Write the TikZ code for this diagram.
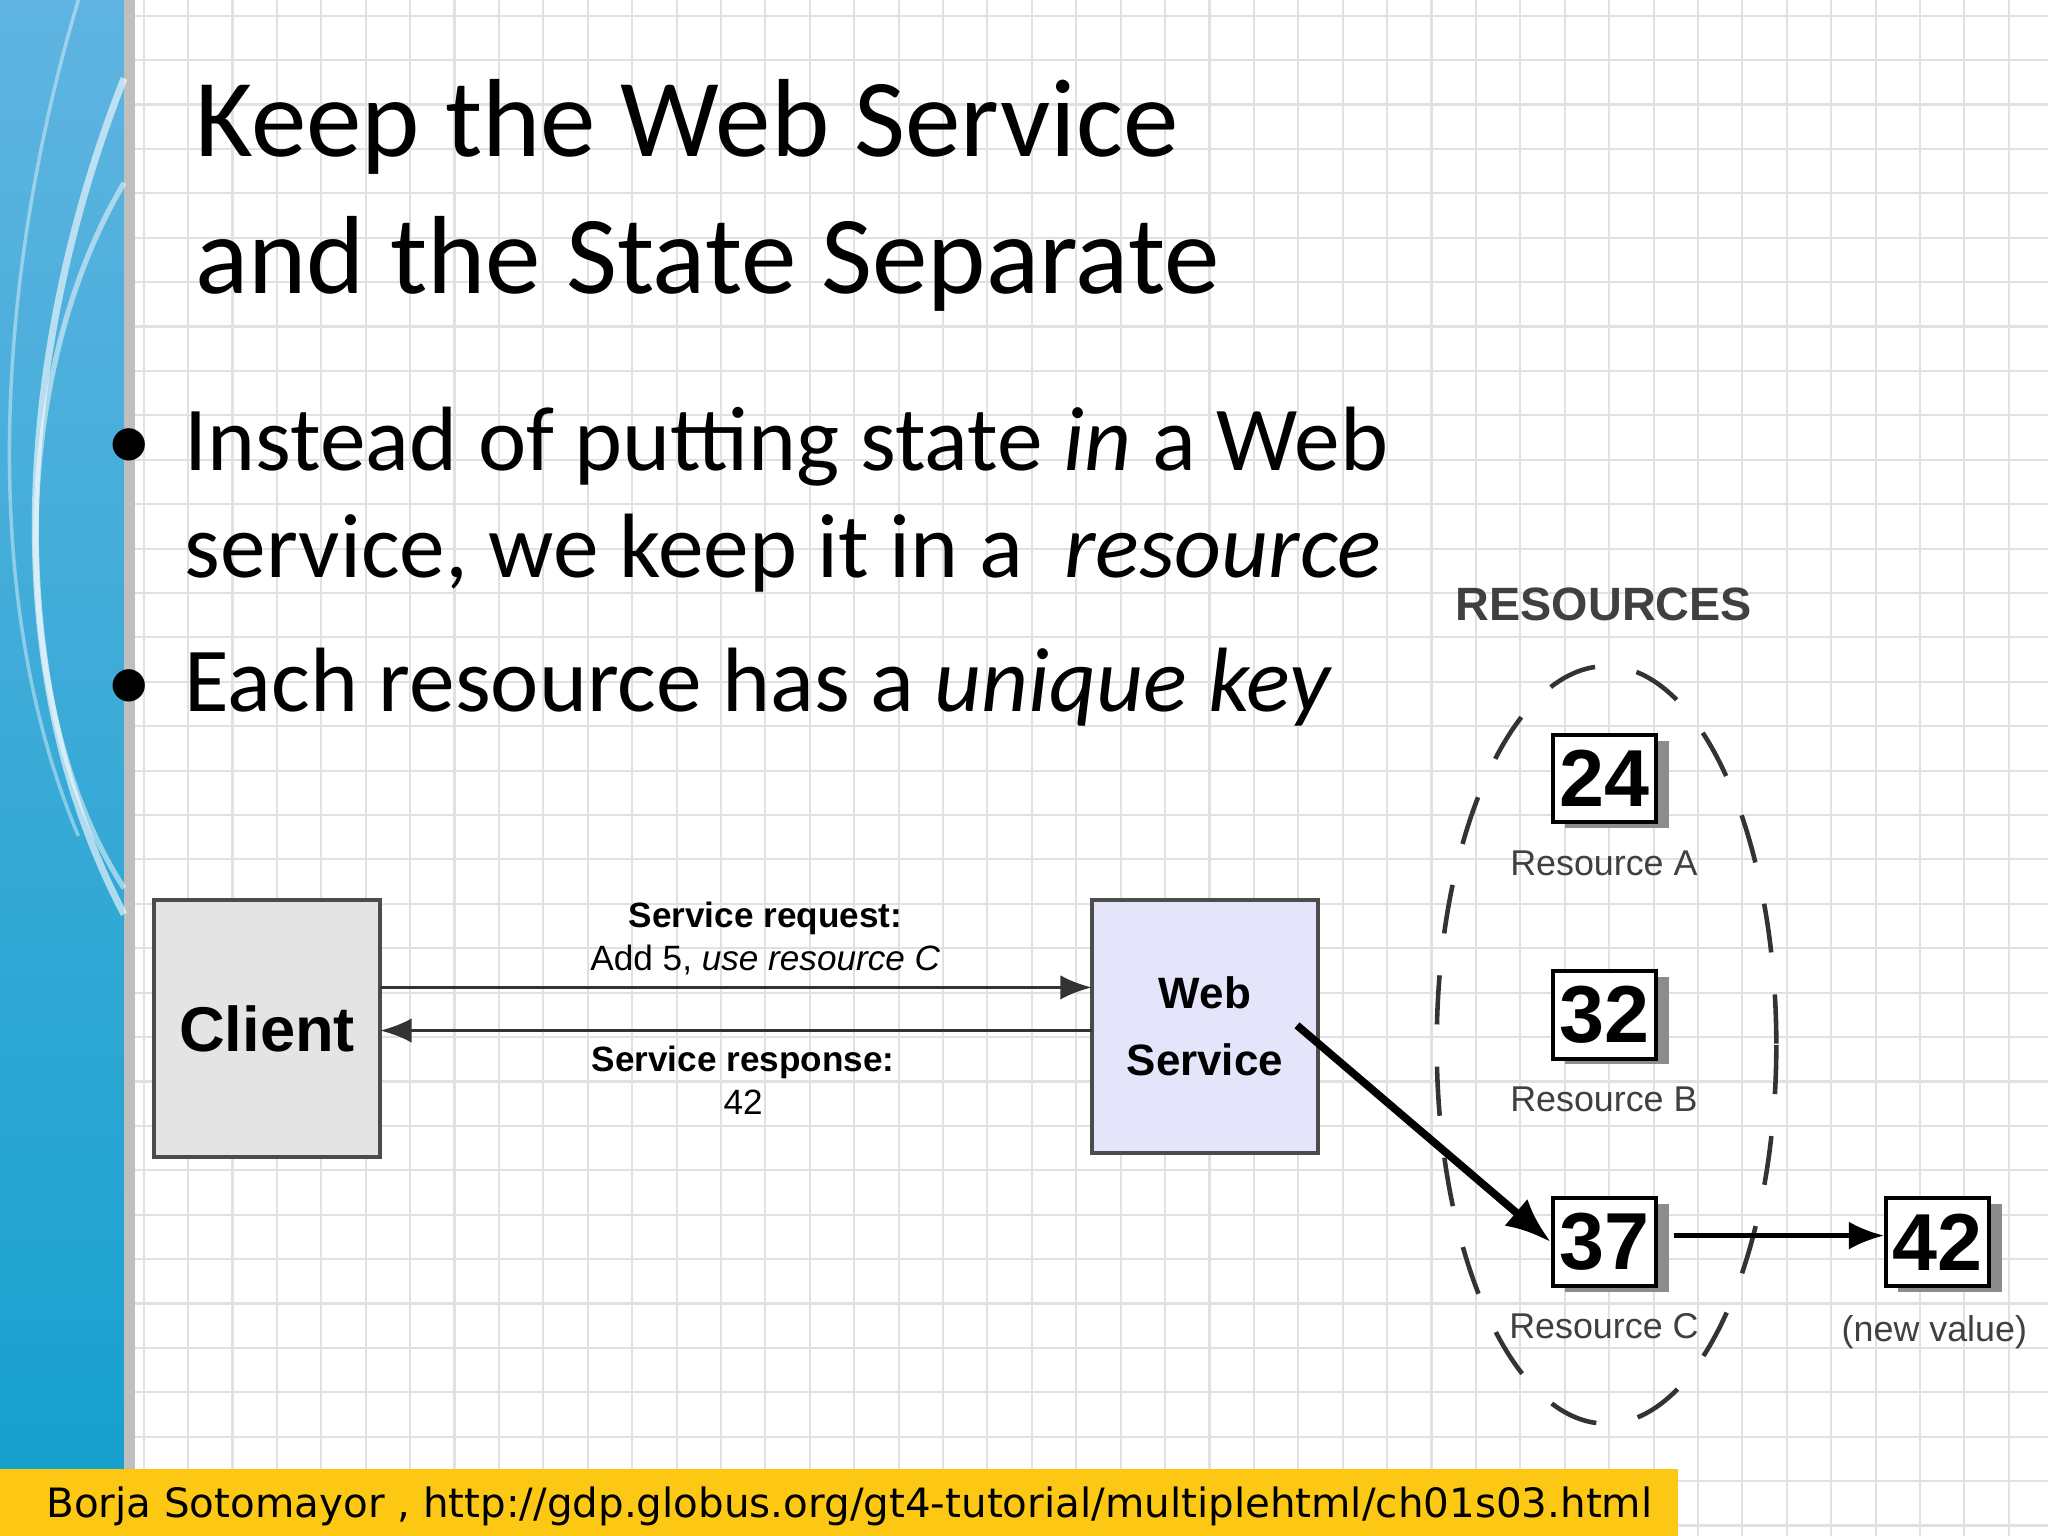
\documentclass[tikz,border=0pt]{standalone}
\usepackage{fontspec}
\setmainfont{Carlito}
\newfontfamily\hel{Liberation Sans}
\newfontfamily\dv{DejaVu Sans}
\usetikzlibrary{arrows.meta,shapes.geometric}
\definecolor{gridc}{RGB}{225,225,225}
\definecolor{lav}{RGB}{228,228,250}
\definecolor{boxgrey}{RGB}{228,228,228}
\definecolor{foot}{RGB}{252,200,20}
\definecolor{stripetop}{RGB}{95,180,225}
\definecolor{stripebot}{RGB}{20,160,205}
\tikzset{
 diag/.style={font=\hel},
 resbox/.style={draw=black,line width=1.2pt,fill=white,minimum width=79*0.013061cm,minimum height=67*0.013061cm,font=\hel\bfseries\fontsize{23}{23}\selectfont,inner sep=0pt},
 reslbl/.style={font=\hel\fontsize{10.2}{12}\selectfont,text=black!75},
 conn/.style={line width=1pt,-{Latex[length=9pt,width=7pt]}},
}
\begin{document}
\begin{tikzpicture}[x=0.013061cm,y=-0.013061cm]
\useasboundingbox (0,0) rectangle (1568,1176);
\fill[white] (0,0) rectangle (1568,1176);
\foreach \x in {110,144,...,1568} \draw[gridc,line width=0.6pt] (\x,0) -- (\x,1176);
\foreach \y in {12,46,...,1176} \draw[gridc,line width=0.6pt] (100,\y) -- (1568,\y);
% left stripe
\shade[top color=stripetop,bottom color=stripebot] (0,0) rectangle (95,1176);
\fill[black!25] (95,0) rectangle (103,1176);
\draw[white,opacity=0.6,line width=2pt] (95,60) .. controls (20,250) and (-10,500) .. (95,700);
\draw[white,opacity=0.5,line width=1.5pt] (95,140) .. controls (0,300) and (10,550) .. (95,680);
\draw[white,opacity=0.4,line width=1pt] (60,0) .. controls (0,200) and (-20,450) .. (60,640);
% title
\node[anchor=base west,font=\fontsize{31.6}{36}\selectfont] (t1) at (140,120) {Keep the Web Service};
\node[anchor=base west,font=\fontsize{31.6}{36}\selectfont] (t2) at (140,225) {and the State Separate};
% bullets
\node[anchor=base west,font=\fontsize{26}{30}\selectfont] (b1) at (72,360) {•};
\node[anchor=base west,font=\fontsize{26}{30}\selectfont] (l1) at (132,360) {Instead of putting state \textit{in} a Web};
\node[anchor=base west,font=\fontsize{26}{30}\selectfont] (l2) at (132,442) {service, we keep it in a \ \textit{resource}};
\node[anchor=base west,font=\fontsize{26}{30}\selectfont] (b2) at (72,545) {•};
\node[anchor=base west,font=\fontsize{26}{30}\selectfont] (l3) at (132,545) {Each resource has a \textit{unique key}};
% diagram
\node[draw=black!70,line width=1.2pt,fill=boxgrey,inner sep=0pt,minimum width=173*0.013061cm,minimum height=197*0.013061cm,font=\hel\bfseries\fontsize{18}{20}\selectfont] (client) at (204.5,787.5) {Client};
\node[draw=black!70,line width=1.2pt,fill=lav,inner sep=0pt,minimum width=173*0.013061cm,minimum height=194*0.013061cm,align=center,font=\hel\bfseries\fontsize{12.5}{19}\selectfont] (ws) at (922.5,786) {Web\\Service};
\coordinate (c1) at (291,756); \coordinate (w1) at (836,756);
\coordinate (c2) at (291,789); \coordinate (w2) at (836,789);
\draw[conn,black!80] (c1) -- (w1);
\draw[conn,black!80] (w2) -- (c2);
\node[diag,anchor=base,font=\hel\bfseries\fontsize{10}{12}\selectfont] (rq1) at (586,710) {Service request:};
\node[diag,anchor=base,font=\hel\fontsize{10}{12}\selectfont] (rq2) at (586,743) {Add 5, \textit{use resource C}};
\node[diag,anchor=base,font=\hel\bfseries\fontsize{10}{12}\selectfont] (rs1) at (569,820) {Service response:};
\node[diag,anchor=base,font=\hel\fontsize{10}{12}\selectfont] (rs2) at (569,853) {42};
% resources
\node[font=\hel\bfseries\fontsize{13.3}{15}\selectfont,text=black!75] (resh) at (1228,463) {RESOURCES};
\draw[dashed,dash pattern=on 14pt off 12pt,line width=1.3pt,black!80] (1230,800) ellipse (130 and 290);
\foreach \n/\v/\y/\l in {ra/24/596/Resource A,rb/32/777/Resource B,rc/37/951/Resource C}{
 \fill[black!45] (1233.5,\y) ++(-35,-29) rectangle ++(79,67);
 \node[resbox] (\n) at (1228.5,\y) {\v};
 \node[reslbl,anchor=base] (\n l) at (1228,\y+74) {\l};
}
\fill[black!45] (1488.5,951) ++(-35,-29) rectangle ++(79,67);
\node[resbox] (nv) at (1483.5,951) {42};
\node[reslbl,anchor=base] (nvl) at (1481,1027) {(new value)};
\draw[line width=1.2pt,-{Latex[length=10pt,width=8pt]}] (rc.east)++(12,-5) coordinate (rce) (rce) -- (nv.west|-rce);
\coordinate (wsa) at (993,785);
\draw[line width=2.2pt,-{Latex[length=13pt,width=10pt]}] (wsa) -- (rc.west);
% footer
\fill[foot] (0,1125) rectangle (1285,1176);
\node[anchor=base west,font=\dv\fontsize{11.5}{13}\selectfont] (ft) at (26,1162) {Borja Sotomayor , http://gdp.globus.org/gt4-tutorial/multiplehtml/ch01s03.html};
\end{tikzpicture}
\end{document}
